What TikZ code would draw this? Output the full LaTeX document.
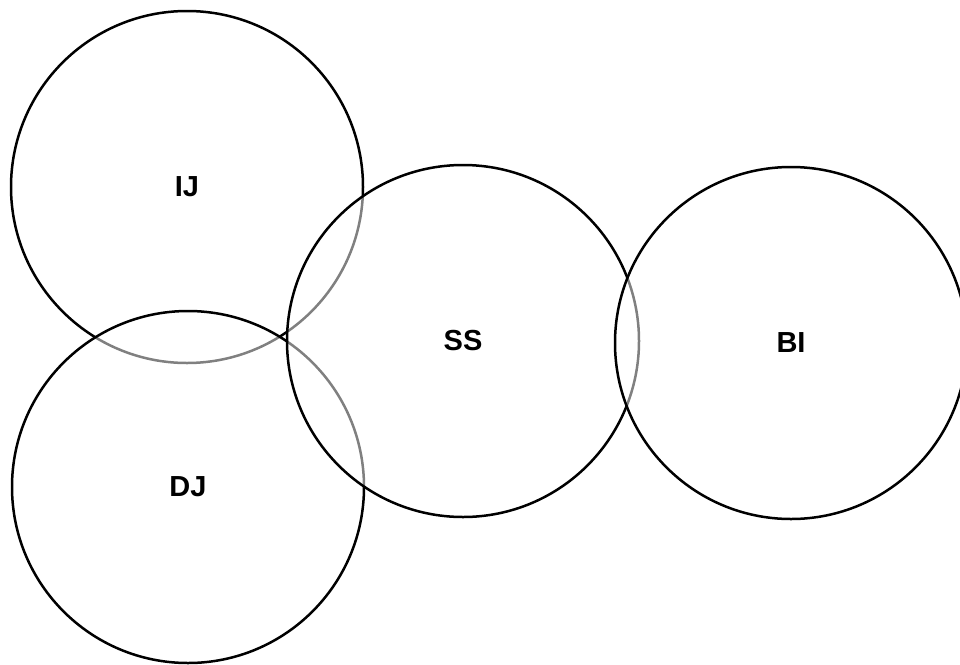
\documentclass[tikz,border=0pt]{standalone}
\usepackage{fontspec}
\setmainfont{Liberation Sans}
\begin{document}
\begin{tikzpicture}[x=1pt,y=-1pt,
  setcircle/.style={circle, draw=black, line width=2.5pt,
    fill=white, fill opacity=0.5, draw opacity=1, text opacity=1,
    minimum size=352pt, inner sep=0pt,
    font=\fontsize{29}{34}\selectfont\bfseries}]
  \useasboundingbox (0,0) rectangle (960,664);
  % later circles are drawn over earlier ones with a half-transparent fill
  \node[setcircle] (ij) at (187,187) {IJ};
  \node[setcircle] (dj) at (188,487) {DJ};
  \node[setcircle] (ss) at (463,341) {SS};
  \node[setcircle] (bi) at (791,343) {BI};
\end{tikzpicture}
\end{document}
